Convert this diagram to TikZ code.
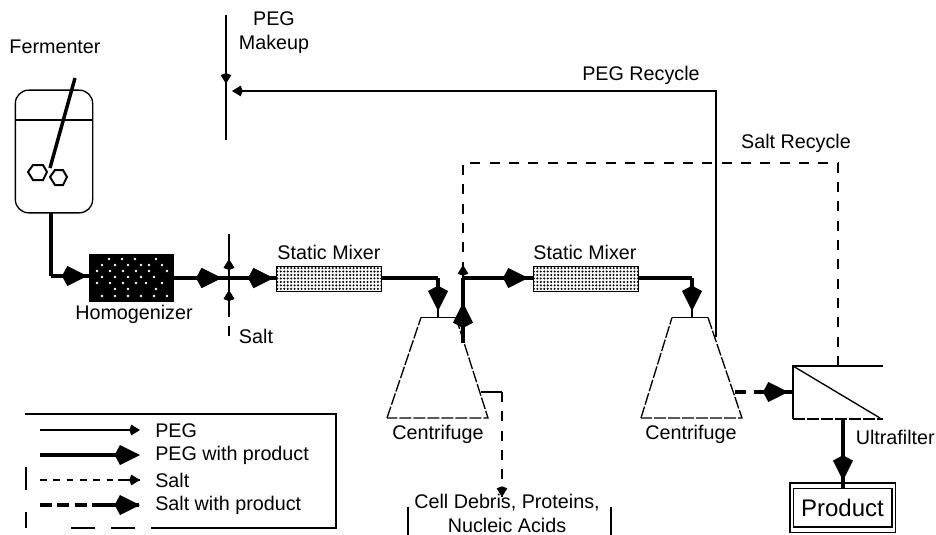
\documentclass[tikz,border=0pt]{standalone}
\usepackage{fontspec}
\setmainfont{Liberation Sans}
\usetikzlibrary{arrows.meta,decorations.markings,patterns,patterns.meta}
\tikzset{
  x=0.75pt,y=-0.75pt,
  lbl/.style={inner sep=0pt,font=\fontsize{14.8}{17}\selectfont,align=center},
  thinline/.style={line width=1.2pt,line join=miter},
  thickline/.style={line width=3pt,line join=miter},
  outline/.style={line width=1pt},
  brokenline/.style={line width=1pt,dash pattern=on 9pt off 1.5pt},
  saltline/.style={line width=1.1pt,dash pattern=on 7.5pt off 7pt},
  saltthick/.style={line width=3pt,dash pattern=on 9pt off 4pt},
  thintip/.tip={Kite[length=8pt,width=8pt,inset=1.5pt]},
  thicktip/.tip={Kite[length=19pt,width=15pt,inset=4pt]},
  smallflow/.style={postaction={decorate},decoration={markings,mark=at position #1 with {\arrow{thintip}}}},
  bigflow/.style={postaction={decorate},decoration={markings,mark=at position #1 with {\arrow{thicktip}}}},
  mixer/.style={draw,line width=1.2pt,pattern={Dots[distance=2.6pt,radius=0.85pt]},pattern color=black,minimum width=79pt,minimum height=19pt,inner sep=0pt},
}
\begin{document}
\begin{tikzpicture}
\useasboundingbox (0,0) rectangle (936,535);
% equipment nodes
\node[draw,outline,rounded corners=10pt,minimum width=58pt,minimum height=92pt,inner sep=0pt] (fermenter) at (54,151.5) {};
\node[fill=black,draw,minimum width=63pt,minimum height=35pt,inner sep=0pt] (homog) at (131.5,278) {};
\foreach \yy/\xl in {259/{109,122,135,156},265/{102,115,128,141,149,162},271/{97,110,123,136,149,167},277/{102,115,128,141,154},283/{97,110,123,136,146,162},289/{115,128,156},296/{102,115,128,141,154,167}}{
  \foreach \xx in \xl {\fill[white] (\xx,\yy) circle (1.1pt);}
}
\node[mixer] (mixA) at (329,279) {};
\node[mixer] (mixB) at (586,279) {};
\node[draw,line width=1pt,minimum width=79pt,minimum height=37pt,inner sep=0pt] (prodout) at (842.5,507.5) {};
\node[draw,line width=1pt,minimum width=74pt,minimum height=29pt,inner sep=0pt,font=\fontsize{18}{20}\selectfont] (product) at (842.5,507.5) {Product};
% named junctions
\coordinate (fermout) at (51,213);
\coordinate (fermbend) at (51,276);
\coordinate (homogin) at (homog.west|-fermbend);
\coordinate (stirtop) at (75,78);
\coordinate (stirbot) at (50,168);
\coordinate (liqL) at (15,120);
\coordinate (liqR) at (93,120);
\coordinate (mkTop) at (226,15);
\coordinate (mkBot) at (226,140);
\coordinate (mkJoin) at (226,91);
\coordinate (saltTop) at (229,234);
\coordinate (saltJ) at (229,278);
\coordinate (saltGap) at (229,308);
\coordinate (saltEnd) at (229,336);
\coordinate (jA) at (438,278);
\coordinate (jB) at (463,278);
\coordinate (jC) at (692,278);
\coordinate (recCorner) at (716,91);
\coordinate (recFoot) at (716,337);
\coordinate (srTop) at (838,163);
\coordinate (srLeft) at (463,163);
% centrifuge A
\coordinate (cAtl) at (421,317.5);
\coordinate (cAtr) at (456,317.5);
\coordinate (cAbr) at (488,418);
\coordinate (cAbl) at (387,418);
\coordinate (cAtop) at (438,317.5);
\coordinate (cAout) at (463,343);
\coordinate (cAnotch) at (481,392);
\coordinate (cAdeb) at (502,392);
\coordinate (debIn) at (502,497);
% centrifuge B
\coordinate (cBtl) at (672,317.5);
\coordinate (cBtr) at (708,317.5);
\coordinate (cBbr) at (742,418);
\coordinate (cBbl) at (641,418);
\coordinate (cBtop) at (692,317.5);
\coordinate (cBout) at (735,392);
\coordinate (cBdash) at (746,392);
\coordinate (uFeed) at (754,392);
% ultrafilter
\coordinate (uTL) at (793,366);
\coordinate (uTR) at (883,366);
\coordinate (uBL) at (793,419);
\coordinate (uBR) at (883,419);
\coordinate (uIn) at (793,392);
\coordinate (uTop) at (838,366);
\coordinate (uBot) at (843,419);
\coordinate (prodIn) at (843,489);
% fermenter interior
\draw[outline] (liqL) -- (liqR);
\draw[line width=2.6pt] (stirtop) -- (stirbot);
\draw[line width=1.5pt] (28,172) -- (33,165) -- (43,165) -- (47,172) -- (43,180) -- (33,180) -- cycle;
\draw[line width=1.5pt] (50,177) -- (55,170) -- (63,170) -- (67,177) -- (63,185) -- (55,185) -- cycle;
% centrifuges and ultrafilter
\draw[brokenline] (cAbl) -- (cAtl);
\draw[outline] (cAtl) -- (cAtr);
\draw[brokenline] (cAtr) -- (cAbr) -- (cAbl);
\draw[brokenline] (cBbl) -- (cBtl);
\draw[outline] (cBtl) -- (cBtr);
\draw[brokenline] (cBtr) -- (cBbr) -- (cBbl);
\draw[thinline] (uBL) -- (uTL) -- (uTR);
\draw[outline] (uTL) -- (880,418);
\draw[brokenline] (uBL) -- (uBR);
% PEG makeup and recycle
\draw[thinline,smallflow=0.55] (mkTop) -- (mkBot);
\draw[thinline,-{thintip}] (recFoot) -- (recCorner) -- (232,91);
% product streams
\draw[thickline] (fermout) -- (fermbend);
\draw[thickline,bigflow=0.95] (fermbend) -- (homogin);
\draw[thickline,bigflow=0.47,bigflow=0.98] (homog.east|-saltJ) -- (mixA.west|-saltJ);
\draw[thickline] (mixA.east|-jA) -- (jA);
\draw[thickline,-{thicktip}] (jA) -- ++(0,33);
\draw[thinline] (jA) -- (cAtop);
\draw[thickline,bigflow=0.62] (cAout) -- (jB);
\draw[thickline,bigflow=0.94] (jB) -- (mixB.west|-jB);
\draw[thickline] (mixB.east|-jC) -- (jC);
\draw[thickline,-{thicktip}] (jC) -- ++(0,33);
\draw[thinline] (jC) -- (cBtop);
\draw[saltthick] (cBout) -- (cBdash);
\draw[thickline,bigflow=0.88] (uFeed) -- (uIn);
\draw[thickline,bigflow=0.88] (uBot) -- (prodIn);
% salt streams
\draw[thinline,smallflow=0.24,smallflow=0.66] (saltGap) -- (saltTop);
\draw[saltline] (saltEnd) -- (saltGap);
\draw[saltline] (uTop) -- (srTop) -- (srLeft) -- (jB);
\draw[thinline,smallflow=1] (jB) -- ++(0,-13);
\draw[outline] (cAnotch) -- (cAdeb);
\draw[thinline,-{thintip}] (debIn) ++(0,-8) -- (debIn);
\draw[saltline] (cAdeb) -- (debIn);
% debris box
\coordinate (dTL) at (408,507);
\coordinate (dBL) at (408,535);
\coordinate (dTR) at (611,507);
\coordinate (dBR) at (611,535);
\draw[thinline] (dTL) -- (dBL);
\draw[thinline] (dTR) -- (dBR);
% labels
\node[lbl] (tFerm) at (55,47) {Fermenter};
\node[lbl] (tMake) at (274,33) {PEG\\[1pt]Makeup};
\node[lbl] (tRec) at (641,75) {PEG Recycle};
\node[lbl] (tSalt) at (796,143) {Salt Recycle};
\node[lbl] (tHom) at (134,314) {Homogenizer};
\node[lbl] (tMixA) at (329,252) {Static Mixer};
\node[lbl] (tMixB) at (585,252) {Static Mixer};
\node[lbl] (tSaltIn) at (256,336) {Salt};
\node[lbl] (tCA) at (438,434) {Centrifuge};
\node[lbl] (tCB) at (691,434) {Centrifuge};
\node[lbl,anchor=east] (tUF) at (935,437) {Ultrafilter};
\node[lbl] (tDeb) at (507,513.5) {Cell Debris, Proteins,\\[1pt]Nucleic Acids};
% legend
\coordinate (lgTL) at (25,414);
\coordinate (lgTR) at (336,414);
\coordinate (lgBR) at (336,528);
\coordinate (lgBm) at (175,528);
\coordinate (lgBL) at (26,528);
\coordinate (lgLa) at (26,467);
\coordinate (lgLb) at (26,490);
\draw[thinline] (lgTL) -- (lgTR) -- (lgBR) -- (lgBm);
\draw[brokenline,dash pattern=on 18pt off 12pt] (lgBm) -- (57,528);
\draw[thinline] (lgLa) -- (lgLb);
\draw[thinline] (26,512) -- (lgBL);
\foreach \nm/\yy in {a/430,b/455,c/480,d/505}{
  \coordinate (ls\nm) at (40,\yy);
  \coordinate (le\nm) at (140,\yy);
}
\draw[thinline,-{thintip}] (lsa) -- (lea);
\draw[thickline,-{thicktip}] (lsb) -- (leb);
\draw[saltline,dash pattern=on 5pt off 5pt] (lsc) -- (lec);
\draw[thinline,-{thintip}] (lec) ++(-22,0) -- (lec);
\draw[saltthick] (lsd) -- (led);
\draw[thickline,-{thicktip}] (led) ++(-40,0) -- (led);
\node[lbl,anchor=west] (l1) at (155,431) {PEG};
\node[lbl,anchor=west] (l2) at (155,455) {PEG with product};
\node[lbl,anchor=west] (l3) at (155,480) {Salt};
\node[lbl,anchor=west] (l4) at (155,505) {Salt with product};
\end{tikzpicture}
\end{document}
